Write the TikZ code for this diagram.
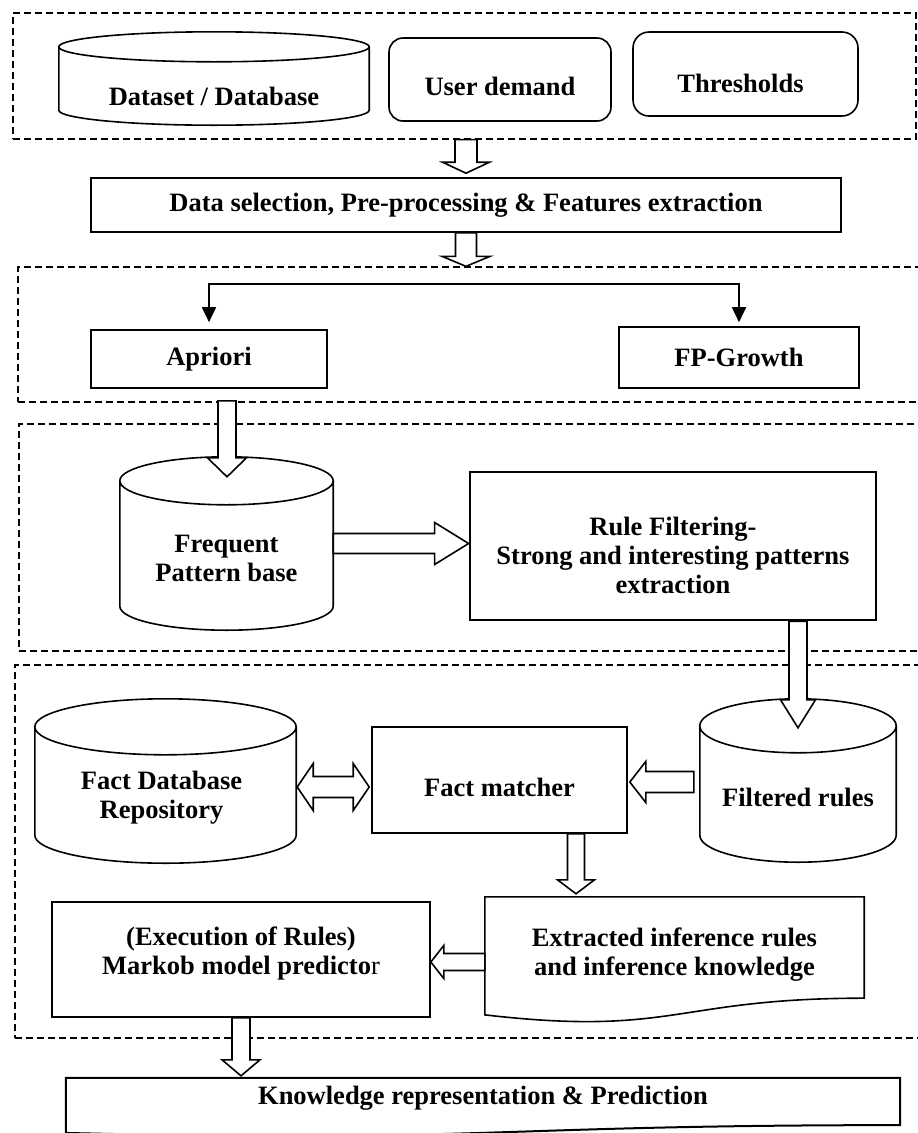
\documentclass[tikz,border=0pt]{standalone}
\usepackage{fontspec}
\setmainfont{Liberation Serif}
\usetikzlibrary{calc,arrows.meta}
\newcommand\txtfont{\fontsize{26.5}{29}\selectfont\bfseries}
\tikzset{
  grp/.style={draw, line width=1.3pt, dash pattern=on 7pt off 4pt, inner sep=0pt},
  box/.style={draw, line width=1.6pt, inner sep=0pt, font=\txtfont, align=center},
  rbox/.style={box, rounded corners=14pt},
  ghost/.style={inner sep=0pt},
  lab/.style={font=\txtfont, align=center, inner sep=0pt},
  shp/.style={line width=1.6pt},
  hollow/.style={draw, fill=white, line width=1.6pt, line join=miter},
  flow/.style={line width=1.8pt, -{Triangle[length=15pt,width=14pt]}}
}
% cylinder outline around a node; #2 = y radius of the end ellipses
\newcommand\cylout[2]{%
  \draw[shp] let \p1=(#1.north west), \p2=(#1.south east), \p3=(#1.north) in
    (\x3,{\y1-#2}) ellipse [x radius={\x3-\x1}, y radius=#2]
    (\x1,{\y1-#2}) -- (\x1,{\y2+#2})
    .. controls (\x1,{\y2+0.4477*#2}) and ({\x1+0.4477*(\x3-\x1)},\y2) .. (\x3,\y2)
    .. controls ({\x3+0.5523*(\x2-\x3)},\y2) and (\x2,{\y2+0.4477*#2}) .. (\x2,{\y2+#2})
    -- (\x2,{\y1-#2});}
% document (wavy bottom) outline around a node
\newcommand\docout[2][]{%
  \draw[shp,#1] let \p1=(#2.north west), \p2=(#2.south east), \p3=(#2.north) in
    (\x1,\y1) -- (\x2,\y1) -- (\x2,{\y1-0.802*(\y1-\y2)})
    .. controls (\x3,{\y1-0.802*(\y1-\y2)}) and (\x3,{\y1-1.1075*(\y1-\y2)}) .. (\x1,{\y1-0.934*(\y1-\y2)})
    -- cycle;}
% hollow block arrow: start, tip, shaft half width, head half width, head length
\newcommand\blockarrow[5]{%
  \draw[hollow] ($(#1)!#3!90:(#2)$) -- ($(#2)!#5!(#1)!#3!-90:(#1)$) -- ($(#2)!#5!(#1)!#4!-90:(#1)$)
    -- (#2) -- ($(#2)!#5!(#1)!#4!90:(#1)$) -- ($(#2)!#5!(#1)!#3!90:(#1)$) -- ($(#1)!#3!-90:(#2)$) -- cycle;}
% hollow double arrow
\newcommand\dblarrow[5]{%
  \draw[hollow] (#1) -- ($(#1)!#5!(#2)!#4!90:(#2)$) -- ($(#1)!#5!(#2)!#3!90:(#2)$)
    -- ($(#2)!#5!(#1)!#3!-90:(#1)$) -- ($(#2)!#5!(#1)!#4!-90:(#1)$) -- (#2)
    -- ($(#2)!#5!(#1)!#4!90:(#1)$) -- ($(#2)!#5!(#1)!#3!90:(#1)$)
    -- ($(#1)!#5!(#2)!#3!-90:(#2)$) -- ($(#1)!#5!(#2)!#4!-90:(#2)$) -- cycle;}
\begin{document}
\begin{tikzpicture}[x=1pt,y=-1pt]
\useasboundingbox (0,0) rectangle (918,1133);
\clip (0,0) rectangle (918,1133);

% dashed groups
\node[grp, minimum width=903pt, minimum height=126pt] (gA) at (464.5,76) {};
\node[grp, minimum width=907pt, minimum height=135pt] (gB) at (471.5,334.5) {};
\node[grp, minimum width=906pt, minimum height=227pt] (gC) at (472,537.5) {};
\node[grp, minimum width=910pt, minimum height=373pt] (gD) at (470,851.5) {};

% top row
\node[ghost, minimum width=310pt, minimum height=93pt,
  label={[lab,yshift=-17.5pt]center:{Dataset / Database}}] (ds) at (214,78.5) {};
\node[rbox, minimum width=222pt, minimum height=83pt,
  label={[lab,yshift=-7pt]center:{User demand}}] (ud) at (500,79.5) {};
\node[rbox, rounded corners=16pt, minimum width=225pt, minimum height=84pt,
  label={[lab,yshift=-9pt,xshift=-5pt]center:{Thresholds}}] (th) at (745.5,74) {};

\node[box, minimum width=750pt, minimum height=54pt] (dsel) at (466,205)
  {Data selection, Pre-processing \& Features extraction};

\node[box, minimum width=236pt, minimum height=58pt] (apri) at (209,359) {Apriori};
\node[box, minimum width=240pt, minimum height=61pt] (fpg) at (739,357.5) {FP-Growth};

\node[ghost, minimum width=213pt, minimum height=173pt,
  label={[lab,yshift=-14.5pt]center:{Frequent\\Pattern base}}] (fpb) at (226.5,543.5) {};
\node[box, line width=2.8pt, minimum width=406pt, minimum height=148pt,
  label={[lab,yshift=-9pt]center:{Rule Filtering-\\Strong and interesting patterns\\extraction}}] (rule) at (673,546) {};

\node[ghost, minimum width=261pt, minimum height=164pt,
  label={[lab,yshift=-17pt,xshift=-4pt]center:{Fact Database\\Repository}}] (fdb) at (165.5,781) {};
\node[box, minimum width=255pt, minimum height=106pt,
  label={[lab,yshift=-7pt]center:{Fact matcher}}] (fm) at (499.5,780) {};
\node[ghost, minimum width=196pt, minimum height=163pt,
  label={[lab,yshift=-16.5pt]center:{Filtered rules}}] (filt) at (798,780.5) {};

\node[ghost, minimum width=379pt, minimum height=126pt,
  label={[lab,yshift=5pt]center:{Extracted inference rules\\and inference knowledge}}] (ext) at (674.5,960) {};
\node[box, minimum width=378pt, minimum height=115pt,
  label={[lab,yshift=6pt]center:{(Execution of Rules)\\Markob model predicto{\mdseries r}}}] (mk) at (241,959.5) {};

\node[ghost, minimum width=834pt, minimum height=58.6pt,
  label={[lab,yshift=9.3pt]center:{Knowledge representation \& Prediction}}] (kn) at (483,1107.3) {};

% outlines of cylinders and documents
\cylout{ds}{15pt}
\cylout{fpb}{24pt}
\cylout{fdb}{28pt}
\cylout{filt}{27pt}
\docout{ext}
\docout[line width=2pt]{kn}

% split connectors
\coordinate (split) at (468,284);
\draw[flow, shorten >=7pt] (split) -| (apri.north);
\draw[flow, shorten >=4pt] (split) -| (fpg.north);

% hollow arrows
\coordinate (a1s) at (dsel.north |- gA.south);
\coordinate (a1t) at ($(dsel.north)+(0,-4)$);
\blockarrow{a1s}{a1t}{11pt}{23.5pt}{11pt}

\coordinate (a2t) at (dsel.south |- gB.north);
\blockarrow{dsel.south}{a2t}{10.5pt}{24pt}{10pt}

\coordinate (a3s) at ($(apri.south)+(18,12)$);
\coordinate (a3t) at ($(fpb.north)+(0.5,20)$);
\blockarrow{a3s}{a3t}{9pt}{19.5pt}{19pt}

\coordinate (a4t) at (rule.west |- fpb.east);
\blockarrow{fpb.east}{a4t}{10pt}{21pt}{34pt}

\coordinate (a5s) at (filt.north |- rule.south);
\coordinate (a5t) at ($(filt.north)+(0,29)$);
\blockarrow{a5s}{a5t}{9pt}{17.5pt}{28pt}

\coordinate (a6s) at ($(filt.west)+(-6,1.5)$);
\coordinate (a6t) at ($(fm.east)+(2,2)$);
\blockarrow{a6s}{a6t}{10.5pt}{20.5pt}{16pt}

\coordinate (d1) at ($(fdb.east)+(1,6)$);
\coordinate (d2) at ($(fm.west)+(-2,7)$);
\dblarrow{d1}{d2}{10.5pt}{23.5pt}{16pt}

\coordinate (a7s) at ($(fm.south)+(76.5,0)$);
\coordinate (a7t) at ($(a7s |- ext.north)+(0,-3)$);
\blockarrow{a7s}{a7t}{8.5pt}{18.5pt}{14pt}

\coordinate (a8s) at ($(ext.west)+(0,2)$);
\coordinate (a8t) at (mk.east |- a8s);
\blockarrow{a8s}{a8t}{8.5pt}{16.5pt}{13pt}

\coordinate (a9t) at ($(mk.south |- kn.north)+(0,-2)$);
\blockarrow{mk.south}{a9t}{9pt}{19pt}{16pt}
\end{tikzpicture}
\end{document}
